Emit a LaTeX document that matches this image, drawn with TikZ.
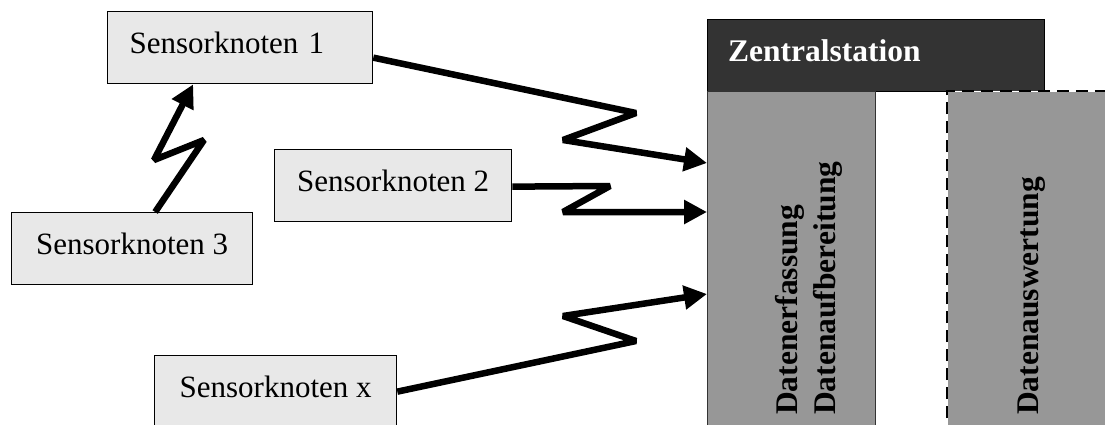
\documentclass[tikz,border=0pt]{standalone}
\usepackage{fontspec}
\setmainfont{Liberation Serif}
\usetikzlibrary{arrows.meta,calc}
\definecolor{boxgray}{HTML}{E8E8E8}
\definecolor{darkbar}{HTML}{333333}
\definecolor{colgray}{HTML}{979797}
\begin{document}
\begin{tikzpicture}[x=1pt,y=-1pt,
  sbox/.style={draw=black, fill=boxgray, line width=1.3pt, inner xsep=0pt, inner ysep=0pt,
    minimum height=72pt, text height=21pt, text depth=9pt, anchor=north west,
    font=\fontsize{31}{37}\selectfont},
  conn/.style={line width=6.5pt, line join=bevel, -{Triangle[length=23pt,width=23pt]}},
  vtext/.style={rotate=90, anchor=base west, inner sep=0pt, font=\fontsize{31.5}{37}\selectfont\bfseries}]
\useasboundingbox (0,0) rectangle (1105,425);
% central station
\node[draw=black, fill=darkbar, line width=1pt, anchor=north west, minimum width=337pt, minimum height=72pt, inner sep=0pt] (zs) at (707,19) {};
\node[anchor=base west, inner sep=0pt, text=white, font=\fontsize{31.5}{37}\selectfont\bfseries] (zst) at (728,62) {Zentralstation};
\node[draw=black!80, fill=colgray, line width=1pt, anchor=north west, minimum width=168pt, minimum height=345pt, inner sep=0pt] (c1) at (707,91) {};
\node[draw=white, fill=colgray, line width=1.2pt, anchor=north west, minimum width=170pt, minimum height=345pt, inner sep=0pt] (c2) at (947,91) {};
\draw[black, line width=1.2pt, dash pattern=on 12pt off 7pt] (c2.south west) -- (c2.north west) -- (c2.north east);
\node[vtext] (c1a) at (797,415) {Datenerfassung};
\node[vtext] (c1b) at (835,415) {Datenaufbereitung};
\node[vtext] (c2a) at (1038,415) {Datenauswertung};
% sensor nodes
\node[sbox, minimum width=265pt, text width=221pt, inner xsep=22pt, align=left] (s1) at (107,11) {Sensorknoten 1};
\node[sbox, minimum width=237pt] (s2) at (274,149) {Sensorknoten 2};
\node[sbox, minimum width=241pt] (s3) at (11,212) {Sensorknoten 3};
\node[sbox, minimum width=242pt] (sx) at (154,355) {Sensorknoten x};
% target points
\coordinate (t1) at ($(c1.north west)+(0,72)$);
\coordinate (t2) at ($(c1.north west)+(0,121)$);
\coordinate (t3) at ($(c1.north west)+(0,203)$);
% connectors
\draw[conn] ([yshift=-10pt]s1.east) -- (636,113) -- (563,140) -- (t1);
\draw[conn] ([yshift=-1pt]s2.east) -- (610,186) -- (563,212) -- (t2);
\draw[conn] (sx.east) -- (636,341) -- (563,316) -- (t3);
\draw[conn] ([xshift=23pt]s3.north) -- (204,140) -- (154,160) -- ([xshift=-47pt]s1.south);
\end{tikzpicture}
\end{document}
